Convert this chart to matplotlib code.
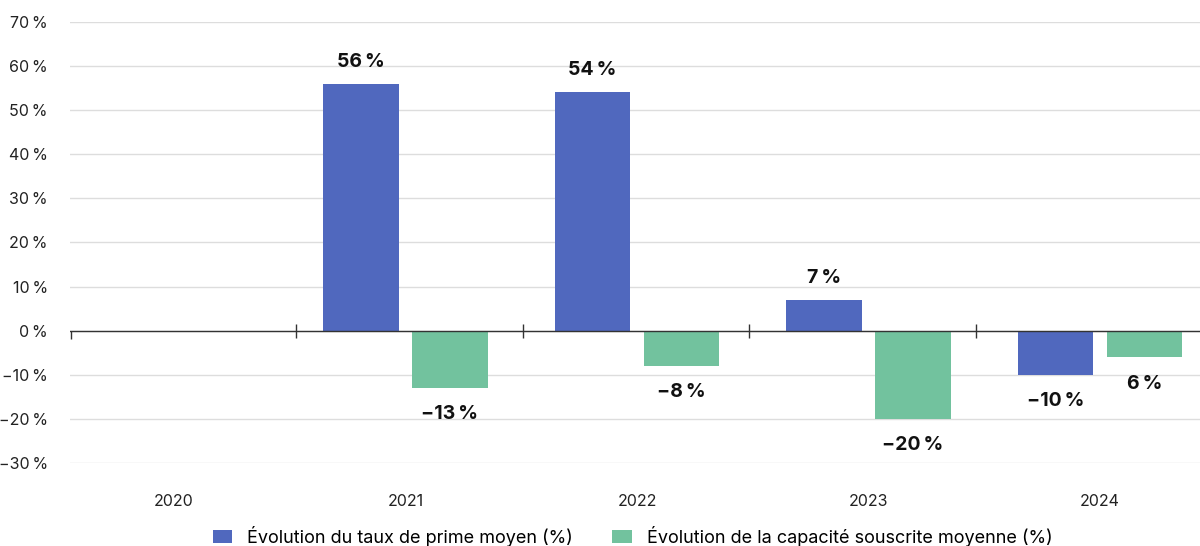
import matplotlib.pyplot as plt
import matplotlib.transforms as mtransforms
import numpy as np

plt.rcParams['font.family'] = ['Inter', 'DejaVu Sans']

years = ['2020', '2021', '2022', '2023', '2024']
taux_prime = [0, 56, 54, 7, -10]
capacite = [0, -13, -8, -20, -6]
labels_prime = ['', '56\u202f%', '54\u202f%', '7\u202f%', '−10\u202f%']
labels_capa = ['', '−13\u202f%', '−8\u202f%', '−20\u202f%', '6\u202f%']
yticks = [-30, -20, -10, 0, 10, 20, 30, 40, 50, 60, 70]

blue = '#5068BE'
green = '#72C29E'

fig = plt.figure(figsize=(12, 5.46), dpi=100)
ax = fig.add_axes([0.0583, 0.152, 0.9433, 0.808])

x = np.arange(len(years))
w = 0.326
off = 0.192
ax.bar(x - off, taux_prime, w, color=blue, zorder=3,
       label='Évolution du taux de prime moyen (%)')
ax.bar(x + off, capacite, w, color=green, zorder=3,
       label='Évolution de la capacité souscrite moyenne (%)')

for xi, v, t in zip(x, taux_prime, labels_prime):
    if t:
        ax.text(xi - off, v + (5 if v > 0 else -6), t, ha='center', va='center',
                fontsize=14, fontweight='bold', color='#111111')
for xi, v, t in zip(x, capacite, labels_capa):
    if t:
        ax.text(xi + off, v - 6, t, ha='center', va='center',
                fontsize=14, fontweight='bold', color='#111111')

ax.set_xlim(-0.449, 4.44)
ax.set_ylim(-30, 70)
ax.set_yticks(yticks)
ax.set_yticklabels([f'{t}\u202f%'.replace('-', '−') for t in yticks])
ax.set_xticks(x)
ax.set_xticklabels(years)
ax.tick_params(axis='x', length=0, pad=22, labelsize=11.5, colors='#222222')
ax.tick_params(axis='y', length=0, pad=16, labelsize=11.5, colors='#222222')
ax.grid(axis='y', color='#dddddd', linewidth=1, zorder=0)
for s in ax.spines.values():
    s.set_visible(False)

ax.axhline(0, color='#333333', linewidth=1, zorder=4)
# separator ticks on the zero line, evenly spaced across the axes
trans = mtransforms.blended_transform_factory(ax.transAxes, ax.transData)
seps = np.arange(1, 5) / 5
ax.vlines(seps, -1.6, 1.6, color='#333333', linewidth=1, zorder=4, transform=trans)
ax.vlines([0.001], 0, -1.8, color='#333333', linewidth=1, zorder=4, transform=trans)

fig.legend(loc='center', bbox_to_anchor=(0.527, 0.018), ncol=2, frameon=False,
           fontsize=13, handlelength=1.1, handleheight=0.7, columnspacing=2.2,
           handletextpad=0.8)

fig.savefig('out.png', dpi=100)
